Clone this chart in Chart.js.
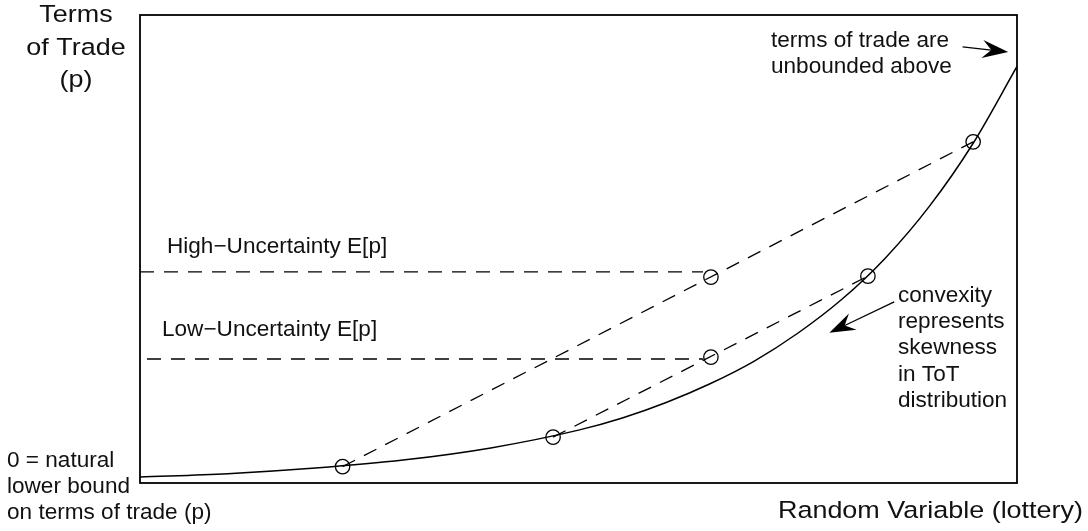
<!DOCTYPE html>
<html>
<head>
<meta charset="utf-8">
<script src="https://cdn.jsdelivr.net/npm/chart.js@4.4.1/dist/chart.umd.min.js"></script>
<style>
  html, body { margin: 0; padding: 0; background: #ffffff; }
  #wrap { width: 1088px; height: 531px; }
</style>
</head>
<body>
<div id="wrap"><canvas id="c" width="1088" height="531"></canvas></div>
<script>
// ---- Data ----
// Convex terms-of-trade curve: lottery value (x) vs terms of trade (y)
const curveX = [0, 10, 20, 30, 40, 50, 55, 60, 65, 70, 75, 80, 85, 90, 95, 100];
const curveY = [1.3, 2.0, 3.2, 4.9, 7.5, 11.3, 13.9, 17.2, 21.2, 26.0, 32.0, 39.2, 48.1, 59.1, 72.6, 89.0];

// Lottery outcome points (circles)
const highOutcomesX = [23.1, 95.0];
const highOutcomesY = [3.5, 72.9];
const lowOutcomesX  = [47.1, 83.0];
const lowOutcomesY  = [9.8, 44.2];
const meanX = [65.1, 65.1];          // high, low expected value position
const meanY = [44.0, 26.9];

// Expected-value reference levels (horizontal dashed lines)
const eLevels   = [45.1, 26.5];      // high, low
const eStartX   = [0, 0.8];
const eEndX     = [64.2, 64.2];

// Text
const yTitle = ["Terms", "of Trade", "(p)"];
const xTitle = "Random Variable (lottery)";
const lowerBoundNote = ["0 = natural", "lower bound", "on terms of trade (p)"];
const unboundedNote = ["terms of trade are", "unbounded above"];
const convexNote = ["convexity", "represents", "skewness", "in ToT", "distribution"];
const highLabel = "High\u2212Uncertainty E[p]";
const lowLabel = "Low\u2212Uncertainty E[p]";

// Arrows (data coordinates: from -> to)
const arrowFromX = [93.8, 86.0];
const arrowFromY = [93.2, 38.7];
const arrowToX   = [99.0, 78.6];
const arrowToY   = [92.1, 32.1];

// ---- Build datasets ----
const pts = (xs, ys) => xs.map((x, i) => ({ x: x, y: ys[i] }));
const circles = pts(highOutcomesX, highOutcomesY)
  .concat(pts(lowOutcomesX, lowOutcomesY))
  .concat(pts(meanX, meanY));

const DASH = [14, 10];
const dashed = (data) => ({
  data: data, showLine: true, borderColor: '#000', borderWidth: 1.3,
  borderDash: DASH, pointRadius: 0, fill: false, tension: 0
});

const datasets = [
  { data: pts(curveX, curveY), showLine: true, borderColor: '#000', borderWidth: 1.5,
    pointRadius: 0, fill: false, cubicInterpolationMode: 'monotone' },
  dashed(pts(highOutcomesX, highOutcomesY)),
  dashed(pts(lowOutcomesX, lowOutcomesY)),
  dashed([{ x: eStartX[0], y: eLevels[0] }, { x: eEndX[0], y: eLevels[0] }]),
  dashed([{ x: eStartX[1], y: eLevels[1] }, { x: eEndX[1], y: eLevels[1] }]),
  { data: circles, showLine: false, pointRadius: 7.2, pointHoverRadius: 7.2,
    pointBorderColor: '#000', pointBackgroundColor: 'rgba(0,0,0,0)', pointBorderWidth: 1.3 }
];

// ---- Annotation plugin ----
const FONT = '"Liberation Sans", Arial, Helvetica, sans-serif';
function drawText(ctx, txt, x, y, size, align, sx) {
  ctx.save();
  ctx.font = size + 'px ' + FONT;
  ctx.fillStyle = '#111';
  ctx.textBaseline = 'alphabetic';
  ctx.translate(x, y);
  ctx.scale(sx, 1);
  ctx.textAlign = align;
  ctx.fillText(txt, 0, 0);
  ctx.restore();
}
function arrow(ctx, x1, y1, x2, y2) {
  const ang = Math.atan2(y2 - y1, x2 - x1);
  const L = 26, W = 9, notch = 17;
  ctx.save();
  ctx.strokeStyle = '#000'; ctx.fillStyle = '#000'; ctx.lineWidth = 1.3;
  ctx.beginPath();
  ctx.moveTo(x1, y1);
  ctx.lineTo(x2 - Math.cos(ang) * notch, y2 - Math.sin(ang) * notch);
  ctx.stroke();
  ctx.translate(x2, y2); ctx.rotate(ang);
  ctx.beginPath();
  ctx.moveTo(0, 0);
  ctx.lineTo(-L, -W);
  ctx.lineTo(-notch, 0);
  ctx.lineTo(-L, W);
  ctx.closePath();
  ctx.fill();
  ctx.restore();
}

const annot = {
  id: 'annot',
  afterDatasetsDraw(chart) {
    const ctx = chart.ctx, a = chart.chartArea;
    const xs = chart.scales.x, ys = chart.scales.y;
    // frame
    ctx.save();
    ctx.strokeStyle = '#000'; ctx.lineWidth = 1.8;
    ctx.strokeRect(a.left, a.top, a.right - a.left, a.bottom - a.top);
    ctx.restore();
    // arrows
    for (let i = 0; i < arrowFromX.length; i++) {
      arrow(ctx, xs.getPixelForValue(arrowFromX[i]), ys.getPixelForValue(arrowFromY[i]),
                 xs.getPixelForValue(arrowToX[i]), ys.getPixelForValue(arrowToY[i]));
    }
    // axis titles
    const TS = 24.5, TSX = 1.1;
    yTitle.forEach((t, i) => drawText(ctx, t, 76, 22 + i * 32.5, TS, 'center', TSX));
    drawText(ctx, xTitle, 1083, 518, TS, 'right', TSX);
    // notes
    const NS = 21.5, NSX = 1.05;
    lowerBoundNote.forEach((t, i) => drawText(ctx, t, 7, 467 + i * 26, NS, 'left', NSX));
    unboundedNote.forEach((t, i) => drawText(ctx, t, 771, 46.5 + i * 26, NS, 'left', NSX));
    convexNote.forEach((t, i) => drawText(ctx, t, 898, 302 + i * 26.2, NS, 'left', NSX));
    drawText(ctx, highLabel, 167, 253, NS, 'left', NSX);
    drawText(ctx, lowLabel, 162, 336, NS, 'left', NSX);
  }
};

new Chart(document.getElementById('c'), {
  type: 'scatter',
  data: { datasets: datasets },
  options: {
    responsive: false,
    animation: false,
    events: [],
    layout: { padding: { left: 140, right: 71, top: 15, bottom: 48 } },
    plugins: { legend: { display: false }, tooltip: { enabled: false } },
    scales: {
      x: { type: 'linear', min: 0, max: 100, display: false },
      y: { type: 'linear', min: 0, max: 100, display: false }
    }
  },
  plugins: [annot]
});
</script>
</body>
</html>
